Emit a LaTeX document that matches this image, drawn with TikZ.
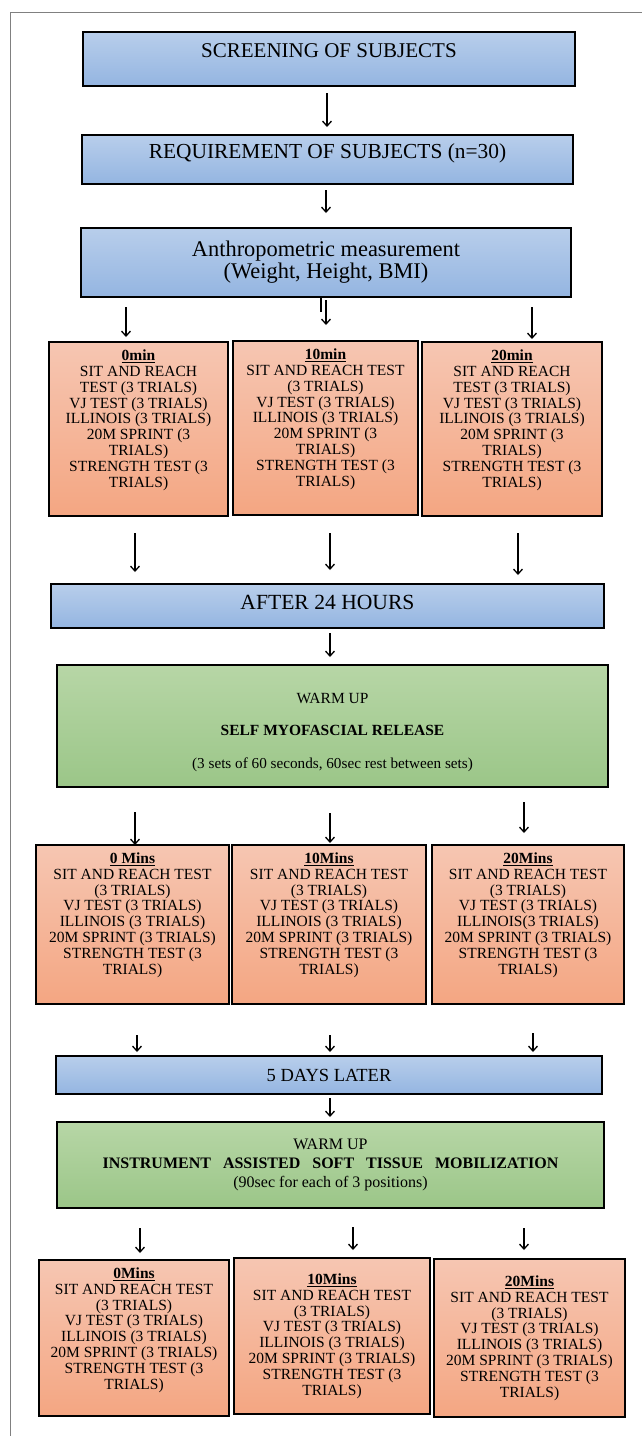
\documentclass[tikz,border=0pt]{standalone}
\usepackage{fontspec}
\setmainfont{Liberation Serif}
\usetikzlibrary{arrows.meta}
\definecolor{blueT}{RGB}{184,206,235}
\definecolor{blueB}{RGB}{148,181,225}
\definecolor{orangeT}{RGB}{246,198,178}
\definecolor{orangeB}{RGB}{244,166,130}
\definecolor{greenT}{RGB}{183,214,166}
\definecolor{greenB}{RGB}{155,198,136}
\newcommand{\dpstrut}[1]{\rule[-#1]{0pt}{#1}}
\newcommand{\htstrut}[1]{\rule{0pt}{#1}}
\tikzset{
  boxbase/.style={draw=black, line width=2.6pt, inner sep=0pt, align=center},
  bluebox/.style={boxbase, top color=blueT, bottom color=blueB, font=\fontsize{21}{22}\selectfont},
  greenbox/.style={boxbase, top color=greenT, bottom color=greenB},
  orangebox/.style={boxbase, top color=orangeT, bottom color=orangeB, font=\fontsize{15.5}{15.8}\selectfont},
  arr/.style={line width=1.3pt, -{Straight Barb[length=5pt,width=9pt,line width=1.3pt]}},
  frameline/.style={draw=gray, line width=0.9pt}
}
\newcommand{\ttl}[1]{\textbf{\underline{#1}}}
\begin{document}
\begin{tikzpicture}[x=1pt,y=-1pt]
\useasboundingbox (0,0) rectangle (642,1436);
\draw[frameline] (10,1436) -- (10,12) -- (642,12);

% blue and green boxes
\node[bluebox, minimum width=492pt, minimum height=54pt] (b1) at (329,59) {SCREENING OF SUBJECTS\dpstrut{16pt}};
\node[bluebox, minimum width=491pt, minimum height=49pt, font=\fontsize{21.4}{22}\selectfont] (b2) at (327.5,159.5) {REQUIREMENT OF SUBJECTS (n=30)\dpstrut{17pt}};
\node[bluebox, minimum width=490pt, minimum height=69pt, font=\fontsize{22.4}{22}\selectfont] (b3) at (326,262.5) {Anthropometric measurement\\(Weight, Height, BMI)};

% row 1
\node[orangebox, minimum width=179pt, minimum height=174pt] (r1a) at (138.5,429) {\ttl{0min}\\SIT AND REACH\\TEST (3 TRIALS)\\VJ TEST (3 TRIALS)\\ILLINOIS (3 TRIALS)\\20M SPRINT (3\\TRIALS)\\STRENGTH TEST (3\\TRIALS)\dpstrut{21pt}};
\node[orangebox, minimum width=185pt, minimum height=174pt] (r1b) at (325.5,428) {\ttl{10min}\\SIT AND REACH TEST\\(3 TRIALS)\\VJ TEST (3 TRIALS)\\ILLINOIS (3 TRIALS)\\20M SPRINT (3\\TRIALS)\\STRENGTH TEST (3\\TRIALS)\dpstrut{21pt}};
\node[orangebox, minimum width=180pt, minimum height=174pt] (r1c) at (512,429) {\ttl{20min}\\SIT AND REACH\\TEST (3 TRIALS)\\VJ TEST (3 TRIALS)\\ILLINOIS (3 TRIALS)\\20M SPRINT (3\\TRIALS)\\STRENGTH TEST (3\\TRIALS)\dpstrut{21pt}};

\node[bluebox, minimum width=553pt, minimum height=44pt, font=\fontsize{21.6}{22}\selectfont] (a24) at (327.5,606) {AFTER 24 HOURS\dpstrut{8pt}};

\node[greenbox, minimum width=551pt, minimum height=122pt, font=\fontsize{15.5}{17}\selectfont] (g1) at (332.5,726)
  {\htstrut{24pt}WARM UP\\[15pt]\textbf{SELF MYOFASCIAL RELEASE}\\[16pt]{\fontsize{15.2}{17}\selectfont (3 sets of 60 seconds, 60sec rest between sets)}};

% row 2
\node[orangebox, minimum width=193pt, minimum height=159pt] (r2a) at (132.5,924.5) {\ttl{0 Mins}\\SIT AND REACH TEST\\(3 TRIALS)\\VJ TEST (3 TRIALS)\\ILLINOIS (3 TRIALS)\\20M SPRINT (3 TRIALS)\\STRENGTH TEST (3\\TRIALS)\dpstrut{22pt}};
\node[orangebox, minimum width=194pt, minimum height=159pt] (r2b) at (329,924.5) {\ttl{10Mins}\\SIT AND REACH TEST\\(3 TRIALS)\\VJ TEST (3 TRIALS)\\ILLINOIS (3 TRIALS)\\20M SPRINT (3 TRIALS)\\STRENGTH TEST (3\\TRIALS)\dpstrut{22pt}};
\node[orangebox, minimum width=192pt, minimum height=159pt] (r2c) at (528,924.5) {\ttl{20Mins}\\SIT AND REACH TEST\\(3 TRIALS)\\VJ TEST (3 TRIALS)\\ILLINOIS(3 TRIALS)\\20M SPRINT (3 TRIALS)\\STRENGTH TEST (3\\TRIALS)\dpstrut{22pt}};

\node[bluebox, minimum width=546pt, minimum height=38pt, font=\fontsize{18.5}{20}\selectfont] (d5) at (329,1075) {5 DAYS LATER};

\node[greenbox, minimum width=547pt, minimum height=86pt, font=\fontsize{16}{19}\selectfont] (g2) at (330.5,1165)
  {WARM UP\\\textbf{INSTRUMENT\hspace{12pt}ASSISTED\hspace{12pt}SOFT\hspace{12pt}TISSUE\hspace{12pt}MOBILIZATION}\\(90sec for each of 3 positions)};

% row 3
\node[orangebox, minimum width=190pt, minimum height=156pt] (r3a) at (134,1338) {\ttl{0Mins}\\SIT AND REACH TEST\\(3 TRIALS)\\VJ TEST (3 TRIALS)\\ILLINOIS (3 TRIALS)\\20M SPRINT (3 TRIALS)\\STRENGTH TEST (3\\TRIALS)\dpstrut{19pt}};
\node[orangebox, minimum width=196pt, minimum height=156pt] (r3b) at (332,1336) {\ttl{10Mins}\\SIT AND REACH TEST\\(3 TRIALS)\\VJ TEST (3 TRIALS)\\ILLINOIS (3 TRIALS)\\20M SPRINT (3 TRIALS)\\STRENGTH TEST (3\\TRIALS)};
\node[orangebox, minimum width=191pt, minimum height=158pt] (r3c) at (529.5,1338) {\ttl{20Mins}\\SIT AND REACH TEST\\(3 TRIALS)\\VJ TEST (3 TRIALS)\\ILLINOIS (3 TRIALS)\\20M SPRINT (3 TRIALS)\\STRENGTH TEST (3\\TRIALS)};

% arrow end points
\coordinate (p1s) at (327,93);   \coordinate (p1e) at (327,127);
\coordinate (p2s) at (326,190);  \coordinate (p2e) at (326,213);
\coordinate (p3s) at (126,307);  \coordinate (p3e) at (126,337);
\coordinate (p4s) at (326,300);  \coordinate (p4e) at (326,325);
\coordinate (t4s) at (321,298);  \coordinate (t4e) at (321,312);
\coordinate (p5s) at (532,307);  \coordinate (p5e) at (532,339);
\coordinate (p6s) at (135,533);  \coordinate (p6e) at (135,572);
\coordinate (p7s) at (330,533);  \coordinate (p7e) at (330,570);
\coordinate (p8s) at (518,533);  \coordinate (p8e) at (518,575);
\coordinate (p9s) at (330,633);  \coordinate (p9e) at (330,657);
\coordinate (p10s) at (135,812); \coordinate (p10e) at (135,845);
\coordinate (p11s) at (330,813); \coordinate (p11e) at (330,843);
\coordinate (p12s) at (524,802); \coordinate (p12e) at (524,833);
\coordinate (p13s) at (137,1035); \coordinate (p13e) at (137,1052);
\coordinate (p14s) at (330,1035); \coordinate (p14e) at (330,1052);
\coordinate (p15s) at (533,1033); \coordinate (p15e) at (533,1052);
\coordinate (p16s) at (330,1098); \coordinate (p16e) at (330,1117);
\coordinate (p17s) at (140,1228); \coordinate (p17e) at (140,1253);
\coordinate (p18s) at (353,1227); \coordinate (p18e) at (353,1250);
\coordinate (p19s) at (524,1228); \coordinate (p19e) at (524,1250);

\foreach \i in {1,...,19} \draw[arr] (p\i s) -- (p\i e);
\draw[line width=1.3pt] (t4s) -- (t4e);
\end{tikzpicture}
\end{document}
